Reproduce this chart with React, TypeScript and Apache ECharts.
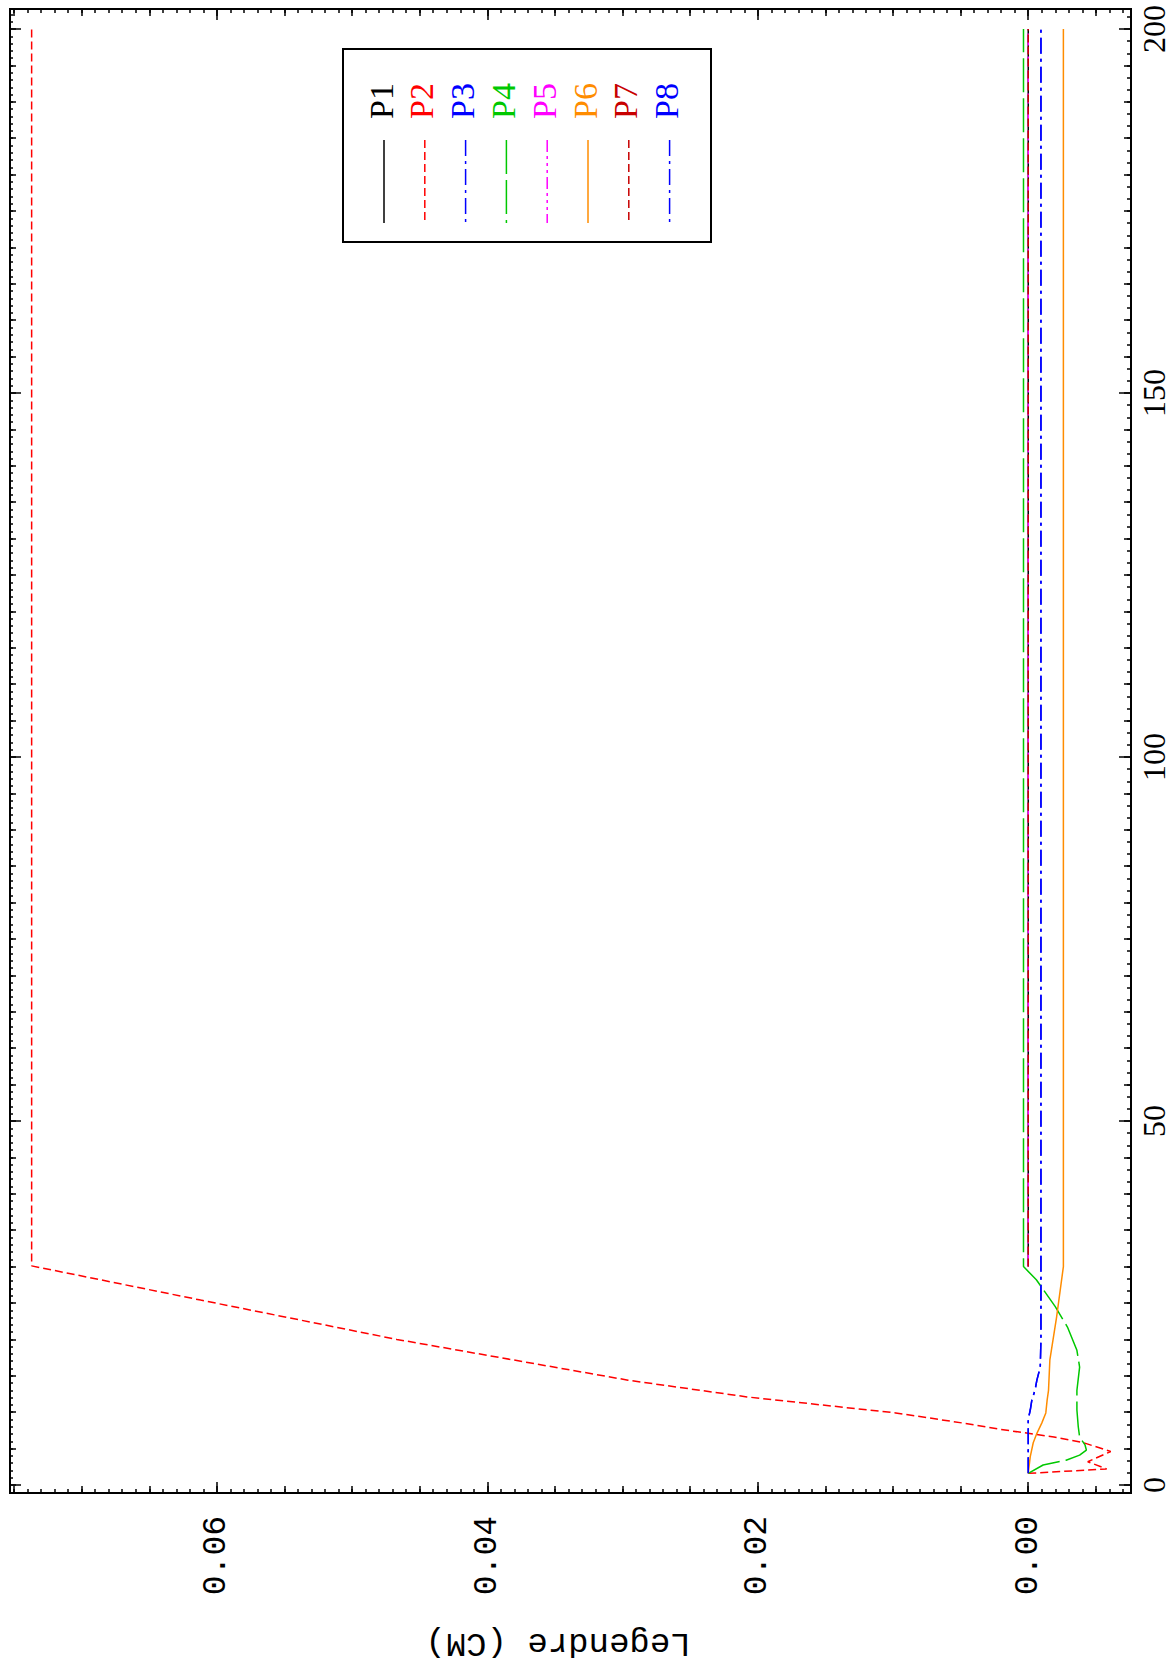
import React, { useEffect, useRef } from "react";
import * as echarts from "echarts";

// ---- data ----
const seriesNames = ["P1", "P2", "P3", "P4", "P5", "P6", "P7", "P8"];
const seriesColors = ["#000000", "#ff0000", "#0000ff", "#00c800", "#ff00ff", "#ff8c00", "#c80000", "#0000ff"];

const p1Depth = [30, 200];
const p1Value = [0, 0];

const p2Depth = [1.6, 2.2, 3.2, 4.6, 5.8, 6.6, 7.65, 8.5, 9.9, 12.1, 14.4, 20.0, 25.4, 30.1, 200];
const p2Value = [0, -0.0058, -0.0044, -0.0061, -0.0041, -0.0019, 0.0021, 0.0048, 0.0098, 0.0208, 0.0296, 0.0467, 0.0612, 0.0737, 0.0737];

const p3Depth = [1.6, 9.0, 10.3, 11.7, 13.0, 14.4, 16.2, 20.0, 200];
const p3Value = [0, 0, -0.00015, -0.00027, -0.0005, -0.00064, -0.00089, -0.00094, -0.00094];

const p4Depth = [1.6, 2.75, 3.4, 4.1, 4.8, 5.5, 6.6, 8.0, 10.3, 13.0, 16.2, 18.5, 21.7, 24.5, 28.2, 30.0, 200];
const p4Value = [0, -0.0011, -0.0028, -0.0038, -0.0043, -0.0042, -0.0038, -0.0037, -0.0036, -0.0036, -0.0038, -0.0036, -0.0029, -0.002, -0.0006, 0.00035, 0.00035];

const p5Depth = [30, 200];
const p5Value = [0, 0];

const p6Depth = [1.6, 3.9, 5.8, 7.1, 8.5, 9.9, 11.7, 13.0, 17.2, 23.1, 30.0, 200];
const p6Value = [0, -0.00015, -0.00037, -0.00064, -0.001, -0.0013, -0.0014, -0.0015, -0.0016, -0.0021, -0.0026, -0.0026];

const p7Depth = [30, 200];
const p7Value = [0, 0];

const p8Depth = [1.6, 9.0, 10.3, 11.7, 13.0, 14.4, 16.2, 20.0, 200];
const p8Value = [0, 0, -0.00015, -0.00027, -0.0005, -0.00064, -0.00089, -0.00094, -0.00094];

const seriesDepths = [p1Depth, p2Depth, p3Depth, p4Depth, p5Depth, p6Depth, p7Depth, p8Depth];
const seriesValues = [p1Value, p2Value, p3Value, p4Value, p5Value, p6Value, p7Value, p8Value];

const axisTitle = "Legendre (CM)";

// ---- styles / layout ----
const DASH: (number[] | null)[] = [
  null,
  [8, 4],
  [16, 5, 3, 5],
  [34, 6],
  [12, 4, 3, 4, 3, 4, 3, 4],
  null,
  [8, 4],
  [16, 5, 3, 5],
];

const V_MIN = -0.0076;
const V_MAX = 0.0753;
const D_MIN = -1.1;
const D_MAX = 202.75;

const tickStyle = { color: "#000", width: 1.5 };

function valueAxis(position: string, step: number, len: number, minorSplit: number, minorLen: number, labels: boolean) {
  return {
    type: "value",
    position,
    min: V_MIN,
    max: V_MAX,
    inverse: true,
    minInterval: step,
    maxInterval: step,
    axisLine: { show: false, onZero: false },
    axisTick: { show: true, inside: true, length: len, lineStyle: tickStyle },
    minorTick: { show: minorSplit > 0, splitNumber: minorSplit || 5, length: minorLen, lineStyle: tickStyle },
    splitLine: { show: false },
    minorSplitLine: { show: false },
    axisLabel: labels
      ? {
          show: true,
          rotate: 90,
          margin: 23,
          color: "#000",
          fontFamily: "Liberation Mono",
          fontSize: 33,
          showMinLabel: false,
          showMaxLabel: false,
          formatter: (v: number) => (Math.abs(v) < 1e-9 ? "0.00" : v.toFixed(2)),
        }
      : { show: false },
  };
}

function depthAxis(position: string, step: number, len: number, minorSplit: number, minorLen: number, labels: boolean) {
  return {
    type: "value",
    position,
    min: D_MIN,
    max: D_MAX,
    minInterval: step,
    maxInterval: step,
    axisLine: { show: false, onZero: false },
    axisTick: { show: true, inside: true, length: len, lineStyle: tickStyle },
    minorTick: { show: minorSplit > 0, splitNumber: minorSplit || 5, length: minorLen, lineStyle: tickStyle },
    splitLine: { show: false },
    minorSplitLine: { show: false },
    axisLabel: labels
      ? {
          show: true,
          rotate: 90,
          margin: 7,
          color: "#000",
          fontFamily: "Liberation Serif",
          fontSize: 32,
          lineHeight: 32,
          showMinLabel: false,
          showMaxLabel: false,
          formatter: (v: number) => String(Math.round(v)),
        }
      : { show: false },
  };
}

export default function App() {
  const ref = useRef<HTMLDivElement | null>(null);

  useEffect(() => {
    if (!ref.current) return;
    const chart = echarts.init(ref.current, undefined, { renderer: "svg" });

    const series = seriesNames.map((name, i) => ({
      name,
      type: "line",
      xAxisIndex: 0,
      yAxisIndex: 0,
      data: seriesDepths[i].map((d, j) => [seriesValues[i][j], d]),
      showSymbol: false,
      symbol: "none",
      silent: true,
      z: 2 + i,
      lineStyle: { color: seriesColors[i], width: 1.5, type: DASH[i] ? DASH[i] : "solid" },
      itemStyle: { color: seriesColors[i] },
    }));

    const legendX0 = 384;
    const legendStep = 40.8;
    const legendGraphics: any[] = [
      {
        type: "rect",
        z: 100,
        shape: { x: 343, y: 49, width: 368, height: 193 },
        style: { fill: "#fff", stroke: "#000", lineWidth: 2 },
      },
    ];
    seriesNames.forEach((name, i) => {
      const lx = legendX0 + legendStep * i;
      legendGraphics.push({
        type: "line",
        z: 101,
        shape: { x1: lx, y1: 140, x2: lx, y2: 223 },
        style: { stroke: seriesColors[i], lineWidth: 1.5, lineDash: DASH[i] || null },
      });
      legendGraphics.push({
        type: "text",
        z: 101,
        x: lx - 3,
        y: 101,
        rotation: Math.PI / 2,
        style: {
          text: name,
          fill: seriesColors[i],
          font: '34px "Liberation Serif"',
          textAlign: "center",
          textVerticalAlign: "middle",
          align: "center",
          verticalAlign: "middle",
        },
      });
    });

    const titleGraphic = {
      type: "text",
      z: 101,
      x: 558,
      y: 1643,
      rotation: Math.PI,
      style: {
        text: axisTitle,
        fill: "#000",
        font: '34px "Liberation Mono"',
        textAlign: "center",
        textVerticalAlign: "middle",
        align: "center",
        verticalAlign: "middle",
      },
    };

    chart.setOption({
      animation: false,
      backgroundColor: "#fff",
      grid: {
        left: 10,
        top: 9,
        right: 43,
        bottom: 176,
        containLabel: false,
        outerBoundsMode: "none",
        show: true,
        borderColor: "#000",
        borderWidth: 2,
        backgroundColor: "transparent",
      },
      xAxis: [
        valueAxis("bottom", 0.02, 11, 20, 4, true),
        valueAxis("bottom", 0.005, 7, 0, 0, false),
        valueAxis("top", 0.02, 11, 20, 4, false),
        valueAxis("top", 0.005, 7, 0, 0, false),
      ],
      yAxis: [
        depthAxis("right", 50, 12, 30, 4, true),
        depthAxis("right", 5, 7, 0, 0, false),
        depthAxis("left", 50, 11, 50, 3, false),
        depthAxis("left", 5, 6, 0, 0, false),
      ],
      series,
      graphic: [...legendGraphics, titleGraphic],
    } as any);

    return () => {
      chart.dispose();
    };
  }, []);

  return <div ref={ref} style={{ position: "absolute", left: 0, top: 0, width: 1174, height: 1669 }} />;
}
